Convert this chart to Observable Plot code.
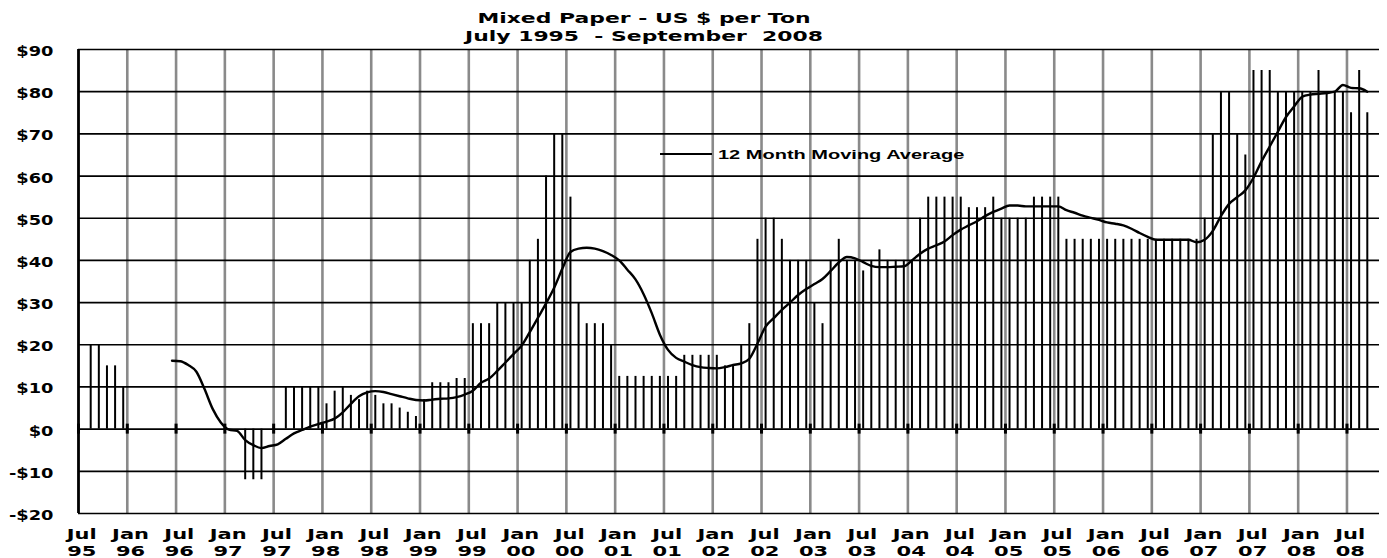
<!DOCTYPE html>
<html>
<head>
<meta charset="utf-8">
<script src="https://cdn.jsdelivr.net/npm/d3@7"></script>
<script src="https://cdn.jsdelivr.net/npm/@observablehq/plot@0.6"></script>
<style>
  body { margin: 0; background: #fff; }
  #wrap { position: relative; width: 1387px; height: 558px; overflow: hidden; background: #fff; }
  #chart { position: absolute; left: 0; top: 20px; }
  #title { position: absolute; left: 0; top: 9px; width: 1288px; text-align: center;
           font-family: "DejaVu Sans", sans-serif; font-weight: bold; font-size: 14.5px;
           line-height: 18px; white-space: pre; color: #000; }
  #title div { transform: scaleX(1.51); transform-origin: center; }
  #legLine { position: absolute; left: 660px; top: 153px; width: 52px; height: 2px; background: #000; }
  #legText { position: absolute; left: 718px; top: 148px; font-family: "Liberation Sans", Arial, sans-serif;
             font-weight: bold; font-size: 12.5px; line-height: 14px; white-space: pre; color: #000;
             transform: scaleX(1.6); transform-origin: left center; }
</style>
</head>
<body>
<div id="wrap">
  <div id="chart"></div>
  <div id="title"><div>Mixed Paper - US $ per Ton</div><div>July 1995  - September  2008</div></div>
  <div id="legLine"></div>
  <div id="legText">12 Month Moving Average</div>
</div>
<script>
// Monthly price, US $ per ton, July 1995 (index 0) .. September 2008 (index 158); null = no bar
const price = [
  null, 20, 20, 15, 15, 10,                                   // Jul95-Dec95
  null, null, null, null, null, null, null, null, null, null, null, null, null, null, // Jan96-Feb97
  -12, -12, -12, null, null,                                  // Mar97-Jul97
  10, 10, 10, 10, 10,                                         // Aug97-Dec97
  6, 9, 10, 8, 7, 9,                                          // 1998 H1
  8, 6, 6, 5, 4, 3,                                           // 1998 H2
  7, 11, 11, 11, 12, 12,                                      // 1999 H1
  25, 25, 25, 30, 30, 30,                                     // 1999 H2
  30, 40, 45, 60, 70, 70,                                     // 2000 H1
  55, 30, 25, 25, 25, 20,                                     // 2000 H2
  12.5, 12.5, 12.5, 12.5, 12.5, 12.5,                         // 2001 H1
  12.5, 12.5, 17.5, 17.5, 17.5, 17.5,                         // 2001 H2
  17.5, 15, 15, 20, 25, 45,                                   // 2002 H1
  50, 50, 45, 40, 40, 40,                                     // 2002 H2
  30, 25, 40, 45, 40, 40,                                     // 2003 H1
  37.5, 40, 42.5, 40, 40, 40,                                 // 2003 H2
  40, 50, 55, 55, 55, 55,                                     // 2004 H1
  55, 52.5, 52.5, 52.5, 55, 50,                               // 2004 H2
  50, 50, 50, 55, 55, 55,                                     // 2005 H1
  55, 45, 45, 45, 45, 45,                                     // 2005 H2
  45, 45, 45, 45, 45, 45,                                     // 2006 H1
  45, 45, 45, 45, 45, 45,                                     // 2006 H2
  50, 70, 80, 80, 70, 65,                                     // 2007 H1
  85, 85, 85, 80, 80, 80,                                     // 2007 H2
  80, 80, 85, 80, 80, 80,                                     // 2008 H1
  75, 85, 75                                                  // Jul08-Sep08
];

// 12 month moving average, same monthly index
const movingAvg = [
  null, null, null, null, null, null, null, null, null, null, null,
  16.2, 16.1, 15.2, 13.6, 9.5, 4.8, 1.6,
  -0.1, -0.4, -2.6, -3.8, -4.5, -4.0,
  -3.6, -2.3, -1.0, -0.2, 0.6, 1.2,
  1.8, 2.5, 4.0, 6.0, 7.8, 8.7,
  9.0, 8.8, 8.3, 7.8, 7.3, 6.9,
  6.8, 7.0, 7.2, 7.3, 7.6, 8.2,
  9.1, 11.0, 12.0, 13.8, 15.8, 17.8,
  19.8, 23.0, 26.4, 29.8, 33.5, 38.0,
  42.0, 42.8, 43.0, 42.8, 42.2, 41.3,
  40.0, 37.8, 35.5, 32.0, 27.5, 22.4,
  18.8, 16.9, 16.0, 15.2, 14.7, 14.5,
  14.4, 14.7, 15.2, 15.6, 16.7, 20.3,
  24.3, 26.3, 28.3, 30.0, 31.8, 33.2,
  34.4, 35.6, 37.5, 39.5, 40.8, 40.5,
  39.6, 38.7, 38.4, 38.4, 38.5, 38.6,
  40.0, 41.6, 42.8, 43.6, 44.5, 46.0,
  47.3, 48.3, 49.3, 50.5, 51.5, 52.3,
  53.0, 53.0, 52.8, 52.8, 52.8, 52.8,
  52.8, 51.9, 51.3, 50.6, 50.1, 49.6,
  49.0, 48.7, 48.3, 47.5, 46.5, 45.6,
  44.9, 44.9, 44.9, 44.9, 44.9, 44.3,
  44.9, 47.0, 50.5, 53.4, 55.0, 56.6,
  59.6, 63.5, 67.0, 70.5, 74.0, 76.5,
  78.8, 79.3, 79.5, 79.7, 80.0, 81.6,
  80.9, 80.8, 80.0
];

// x tick labels, one every 6 months starting July 1995
const tickLabels = [
  "Jul\n95", "Jan\n96", "Jul\n96", "Jan\n97", "Jul\n97", "Jan\n98", "Jul\n98", "Jan\n99", "Jul\n99",
  "Jan\n00", "Jul\n00", "Jan\n01", "Jul\n01", "Jan\n02", "Jul\n02", "Jan\n03", "Jul\n03", "Jan\n04",
  "Jul\n04", "Jan\n05", "Jul\n05", "Jan\n06", "Jul\n06", "Jan\n07", "Jul\n07", "Jan\n08", "Jul\n08"
];
const yTicks = [-20, -10, 0, 10, 20, 30, 40, 50, 60, 70, 80, 90];

const monthsPerTick = 6;
const nMonths = price.length + 1;
const ticks = tickLabels.map((_, k) => k * monthsPerTick);
const bars = price.map((v, i) => ({m: i + 0.5, v})).filter(d => d.v != null);
const ma = movingAvg.map((v, i) => ({m: i + 0.5, v}));

const chart = Plot.plot({
  width: 1387,
  height: 538,
  marginLeft: 78,
  marginRight: 8,
  marginTop: 29,
  marginBottom: 45,
  style: {fontFamily: "DejaVu Sans", fontSize: "14px", fontWeight: "bold", color: "#000", background: "transparent", overflow: "visible"},
  x: {domain: [0, nMonths], axis: null},
  y: {domain: [yTicks[0], yTicks[yTicks.length - 1]], axis: null},
  marks: [
    Plot.ruleX(ticks, {stroke: "#8a8a8a", strokeWidth: 2.6}),
    Plot.ruleY(yTicks, {stroke: "#000", strokeWidth: 1.7}),
    Plot.ruleX([0], {stroke: "#000", strokeWidth: 2.7}),
    Plot.ruleX(ticks, {y1: 0, y2: 0, insetTop: -5, insetBottom: -5, stroke: "#000", strokeWidth: 3}),
    Plot.ruleX(bars, {x: "m", y1: 0, y2: "v", stroke: "#000", strokeWidth: 2}),
    Plot.line(ma, {x: "m", y: "v", curve: "monotone-x", stroke: "#000", strokeWidth: 2.4}),
    Plot.axisY(yTicks, {tickSize: 0, tickPadding: 25, dy: 2, fontSize: 14, fontWeight: "bold", label: null,
      tickFormat: d => d < 0 ? `-$${-d}` : `$${d}`}),
    Plot.axisX(ticks, {tickSize: 0, tickPadding: 14, dx: 3, fontSize: 14, fontWeight: "bold", lineHeight: 1.18, label: null,
      tickFormat: d => tickLabels[Math.round(d / monthsPerTick)]})
  ]
});

document.getElementById("chart").appendChild(chart);

// horizontal stretch of each label around its anchor point (the reference's type is wide)
chart.querySelectorAll("text").forEach(t => {
  const s = t.textContent.includes("$") ? 1.27 : 1.5;
  const b = t.getBBox();
  const anchor = getComputedStyle(t).textAnchor;
  const ox = anchor === "end" ? b.x + b.width : anchor === "middle" ? b.x + b.width / 2 : b.x;
  const tr = t.getAttribute("transform") || "";
  t.setAttribute("transform", `${tr} translate(${ox},0) scale(${s},1) translate(${-ox},0)`);
});
</script>
</body>
</html>
